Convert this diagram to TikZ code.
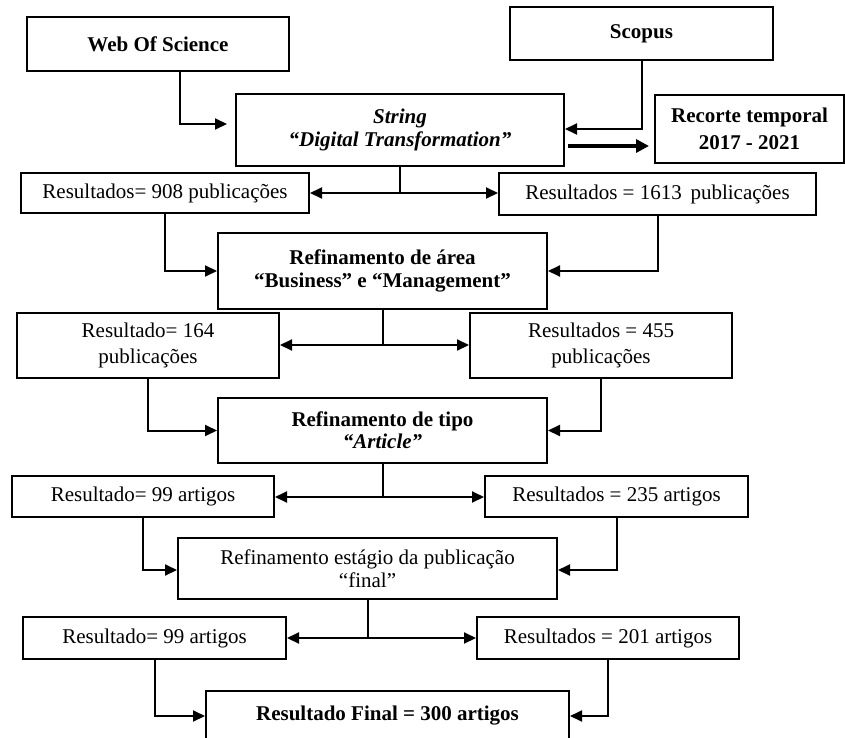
\documentclass[tikz,border=0pt]{standalone}
\usepackage{fontspec}
\setmainfont{Liberation Serif}
\usetikzlibrary{arrows.meta}
\begin{document}
\begin{tikzpicture}[x=1pt,y=-1pt,
  box/.style={draw, line width=2pt, inner sep=0pt, align=center, font=\fontsize{21}{23}\selectfont},
  conn/.style={line width=2pt},
  arr/.style={conn, -{Triangle[length=12pt,width=11pt]}},
  thickarr/.style={line width=4.5pt, -{Triangle[length=13pt,width=13pt]}}]
\useasboundingbox (0,0) rectangle (845,738);
\clip (0,0) rectangle (845,738);
% sources
\node[box, minimum width=262, minimum height=54] (wos) at (158,44) {\textbf{Web Of Science}};
\node[box, minimum width=263, minimum height=53] (scopus) at (641.5,33.5) {\textbf{Scopus}};
\node[box, minimum width=328, minimum height=72] (str) at (400,130) {\textbf{\textit{String}}\\\textbf{\textit{“Digital Transformation”}}};
\node[box, minimum width=189, minimum height=68, font=\fontsize{21}{27}\selectfont] (rec) at (749.5,129) {\textbf{Recorte temporal}\\\textbf{2017 - 2021}};
% row 1
\node[box, minimum width=288, minimum height=40] (r1l) at (165,193) {Resultados= 908 publicações};
\node[box, minimum width=317, minimum height=42] (r1r) at (657.5,194) {Resultados = 1613 \,publicações};
\node[box, minimum width=329, minimum height=76] (area) at (382.5,271) {\textbf{Refinamento de área}\\\textbf{“Business” e “Management”}};
% row 2
\node[box, minimum width=262, minimum height=65, font=\fontsize{21}{26}\selectfont] (r2l) at (148,345.5) {Resultado= 164\\publicações};
\node[box, minimum width=262, minimum height=65, font=\fontsize{21}{26}\selectfont] (r2r) at (601,345.5) {Resultados = 455\\publicações};
\node[box, minimum width=329, minimum height=65, font=\fontsize{21}{22}\selectfont] (tipo) at (382.5,430.5) {\textbf{Refinamento de tipo}\\\textbf{\textit{“Article”}}};
% row 3
\node[box, minimum width=262, minimum height=41] (r3l) at (143,496.5) {Resultado= 99 artigos};
\node[box, minimum width=263, minimum height=41] (r3r) at (616.5,496.5) {Resultados = 235 artigos};
\node[box, minimum width=379, minimum height=61] (est) at (367.5,568.5) {Refinamento estágio da publicação\\“final”};
% row 4
\node[box, minimum width=263, minimum height=42] (r4l) at (154.5,638) {Resultado= 99 artigos};
\node[box, minimum width=262, minimum height=42] (r4r) at (608,638) {Resultados = 201 artigos};
\node[box, minimum width=363, minimum height=50] (fin) at (387.5,716) {\textbf{Resultado Final = 300 artigos}};
% connectors
\draw[arr, shorten >=8pt] (wos.south -| 180,0) |- (str.west |- 0,124);
\draw[arr] (scopus.south) |- (str.east |- 0,129);
\draw[thickarr, shorten <=3pt, shorten >=5pt] (str.east |- 0,146) -- (rec.west |- 0,146);
\coordinate (j1) at (str.south |- 0,193);
\draw[conn] (str.south) -- (j1);
\draw[arr] (j1) -- (r1l.east |- j1);
\draw[arr] (j1) -- (r1r.west |- j1);
\draw[arr] (r1l.south) |- (area.west);
\draw[arr] (r1r.south) |- (area.east);
\coordinate (j2) at (area.south |- 0,345);
\draw[conn] (area.south) -- (j2);
\draw[arr] (j2) -- (r2l.east |- j2);
\draw[arr] (j2) -- (r2r.west |- j2);
\draw[arr] (r2l.south) |- (tipo.west);
\draw[arr] (r2r.south) |- (tipo.east);
\coordinate (j3) at (tipo.south |- 0,497);
\draw[conn] (tipo.south) -- (j3);
\draw[arr] (j3) -- (r3l.east |- j3);
\draw[arr] (j3) -- (r3r.west |- j3);
\draw[arr] (r3l.south) |- (est.west |- 0,570);
\draw[arr] (r3r.south) |- (est.east |- 0,570);
\coordinate (j4) at (est.south |- 0,638);
\draw[conn] (est.south) -- (j4);
\draw[arr] (j4) -- (r4l.east |- j4);
\draw[arr] (j4) -- (r4r.west |- j4);
\draw[arr] (r4l.south) |- (fin.west);
\draw[arr] (r4r.south) |- (fin.east);
\end{tikzpicture}
\end{document}
